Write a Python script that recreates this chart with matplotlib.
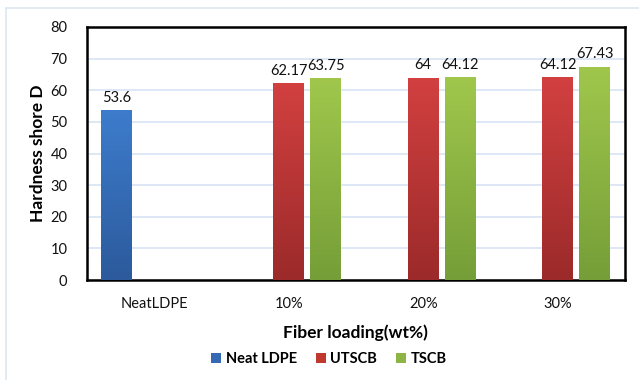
import matplotlib
matplotlib.use("Agg")
import matplotlib.pyplot as plt
import numpy as np
from matplotlib.colors import LinearSegmentedColormap
from matplotlib.lines import Line2D
from matplotlib.patches import Patch

plt.rcParams['font.family'] = ['Lato', 'DejaVu Sans']

# data
categories = ['NeatLDPE', '10%', '20%', '30%']
series_names = ['Neat LDPE', 'UTSCB', 'TSCB']
neat_ldpe = [53.6, None, None, None]
utscb = [None, 62.17, 64, 64.12]
tscb = [None, 63.75, 64.12, 67.43]
value_text = {
    'Neat LDPE': ['53.6', '', '', ''],
    'UTSCB': ['', '62.17', '64', '64.12'],
    'TSCB': ['', '63.75', '64.12', '67.43'],
}

# top colour -> bottom colour for each series
grad = {
    'Neat LDPE': ('#3d7ccc', '#2c5a9c'),
    'UTSCB': ('#d24040', '#9c2a2a'),
    'TSCB': ('#a0c74c', '#759e38'),
}
solid = {'Neat LDPE': '#3569b4', 'UTSCB': '#c0392f', 'TSCB': '#8db444'}
offsets = {'Neat LDPE': -0.28, 'UTSCB': 0.0, 'TSCB': 0.275}
bar_w = 0.23

fig = plt.figure(figsize=(6.39, 3.80), dpi=100)
ax = fig.add_axes([0.136, 0.263, 0.842, 0.666])

x = np.arange(len(categories))
all_series = [neat_ldpe, utscb, tscb]
for name, vals in zip(series_names, all_series):
    cmap = LinearSegmentedColormap.from_list(name, [grad[name][1], grad[name][0]])
    for i, v in enumerate(vals):
        if v is None:
            continue
        xc = x[i] + offsets[name]
        b = ax.bar(xc, v, width=bar_w, color='none', edgecolor='none', zorder=3)[0]
        g = np.linspace(0, 1, 128).reshape(-1, 1)
        im = ax.imshow(g, cmap=cmap, origin='lower', aspect='auto',
                       extent=(xc - bar_w / 2, xc + bar_w / 2, 0, v), zorder=3)
        im.set_clip_path(b)
        ax.text(xc, v + 1.8, value_text[name][i], ha='center', va='bottom',
                fontsize=10.5, color='#111111', zorder=4)

ax.set_xlim(-0.5, len(categories) - 0.5)
ax.set_ylim(0, 80)
ax.set_yticks(range(0, 81, 10))
ax.set_xticks(x)
ax.set_xticklabels(categories)
ax.tick_params(axis='both', length=0, labelsize=10.5, colors='#111111')
ax.tick_params(axis='x', pad=12)
ax.tick_params(axis='y', pad=14)
ax.yaxis.grid(True, color='#d3e0f2', linewidth=1.1, zorder=0)
ax.set_axisbelow(True)
for s in ax.spines.values():
    s.set_linewidth(1.8)
    s.set_color('black')

ax.set_ylabel('Hardness shore D', fontsize=12.5, fontweight='bold', labelpad=3)
ax.set_xlabel('Fiber loading(wt%)', fontsize=12.5, fontweight='bold', labelpad=10)

handles = [Patch(facecolor=solid[n], edgecolor='none') for n in series_names]
leg = fig.legend(handles, series_names, loc='center', bbox_to_anchor=(0.515, 0.056),
                 ncol=3, frameon=False, handlelength=0.7, handleheight=0.7,
                 handletextpad=0.3, columnspacing=1.3,
                 prop={'weight': 'bold', 'size': 10.5})

# light frame around the chart area
fig.add_artist(Line2D([5.5 / 639, 5.5 / 639], [0, 1 - 8 / 380], color='#dde6f2', lw=1.2))
fig.add_artist(Line2D([5.5 / 639, 1], [1 - 8 / 380, 1 - 8 / 380], color='#dde6f2', lw=1.2))

fig.savefig('out.png', dpi=100, facecolor='white')
